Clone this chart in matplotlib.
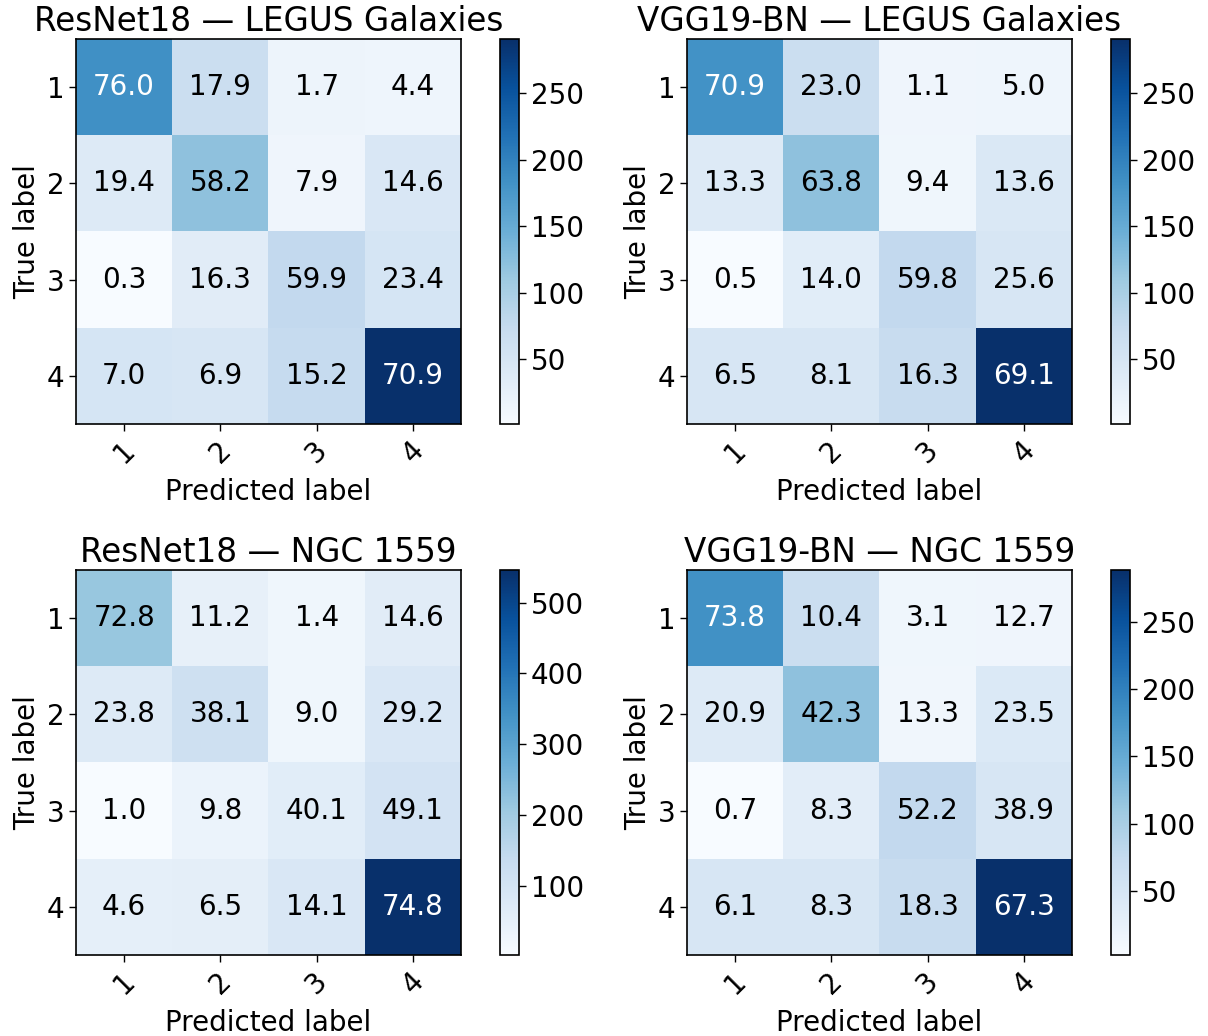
import numpy as np
import matplotlib
matplotlib.use("Agg")
import matplotlib.pyplot as plt

# Class labels shared by every matrix
classes = ["1", "2", "3", "4"]

titles = [
    "ResNet18 — LEGUS Galaxies",
    "VGG19-BN — LEGUS Galaxies",
    "ResNet18 — NGC 1559",
    "VGG19-BN — NGC 1559",
]

# Row-normalised percentages written in each cell
pct_resnet_legus = [[76.0, 17.9, 1.7, 4.4],
                    [19.4, 58.2, 7.9, 14.6],
                    [0.3, 16.3, 59.9, 23.4],
                    [7.0, 6.9, 15.2, 70.9]]
pct_vgg_legus = [[70.9, 23.0, 1.1, 5.0],
                 [13.3, 63.8, 9.4, 13.6],
                 [0.5, 14.0, 59.8, 25.6],
                 [6.5, 8.1, 16.3, 69.1]]
pct_resnet_ngc = [[72.8, 11.2, 1.4, 14.6],
                  [23.8, 38.1, 9.0, 29.2],
                  [1.0, 9.8, 40.1, 49.1],
                  [4.6, 6.5, 14.1, 74.8]]
pct_vgg_ngc = [[73.8, 10.4, 3.1, 12.7],
               [20.9, 42.3, 13.3, 23.5],
               [0.7, 8.3, 52.2, 38.9],
               [6.1, 8.3, 18.3, 67.3]]

# Sample counts that set the cell shading
counts_resnet_legus = [[184, 65, 15, 14],
                       [39, 120, 13, 45],
                       [1, 33, 76, 50],
                       [50, 47, 73, 291]]
counts_vgg_legus = [[182, 65, 13, 14],
                    [39, 120, 12, 42],
                    [1, 32, 76, 48],
                    [48, 47, 71, 291]]
counts_resnet_ngc = [[214, 45, 23, 62],
                     [72, 116, 23, 83],
                     [2, 34, 60, 100],
                     [50, 55, 83, 546]]
counts_vgg_ngc = [[182, 65, 13, 14],
                  [39, 120, 12, 42],
                  [2, 32, 76, 48],
                  [48, 47, 71, 289]]

panels = [
    (titles[0], pct_resnet_legus, counts_resnet_legus),
    (titles[1], pct_vgg_legus, counts_vgg_legus),
    (titles[2], pct_resnet_ngc, counts_resnet_ngc),
    (titles[3], pct_vgg_ngc, counts_vgg_ngc),
]

W, H = 1208, 1036
fig = plt.figure(figsize=(W / 100, H / 100), dpi=100)

plt.rcParams["font.family"] = ["DejaVu Sans"]
FS = 20

# pixel boxes (left, top) of each matrix
origins = [(76, 39), (687, 39), (76, 570), (687, 570)]
SIDE = 385


def px_box(x0, y0, w, h):
    return [x0 / W, 1 - (y0 + h) / H, w / W, h / H]


for (title, pct, cnt), (x0, y0) in zip(panels, origins):
    pct = np.asarray(pct)
    cnt = np.asarray(cnt, dtype=float)
    ax = fig.add_axes(px_box(x0, y0, SIDE, SIDE))
    cax = fig.add_axes(px_box(x0 + 424, y0, 19, SIDE))

    im = ax.imshow(cnt, interpolation="nearest", cmap=plt.cm.Blues,
                   vmin=cnt.min(), vmax=cnt.max(), aspect="auto")
    cb = fig.colorbar(im, cax=cax)
    cb.ax.tick_params(labelsize=FS, length=5, width=1)
    cb.outline.set_linewidth(1.2)

    ax.set_title(title, fontsize=23.5, pad=6)
    ticks = np.arange(len(classes))
    ax.set_xticks(ticks)
    ax.set_xticklabels(classes, rotation=45, fontsize=FS)
    ax.set_yticks(ticks)
    ax.set_yticklabels(classes, fontsize=FS)
    ax.tick_params(length=5, width=1)
    for s in ax.spines.values():
        s.set_linewidth(1.2)

    thresh = cnt.max() / 2.0
    for i in range(pct.shape[0]):
        for j in range(pct.shape[1]):
            ax.text(j, i, f"{pct[i, j]:.1f}", ha="center", va="center",
                    fontsize=FS,
                    color="white" if cnt[i, j] > thresh else "black")

    ax.set_ylabel("True label", fontsize=FS)
    ax.set_xlabel("Predicted label", fontsize=FS, labelpad=7)

fig.savefig("out.png", dpi=100)
